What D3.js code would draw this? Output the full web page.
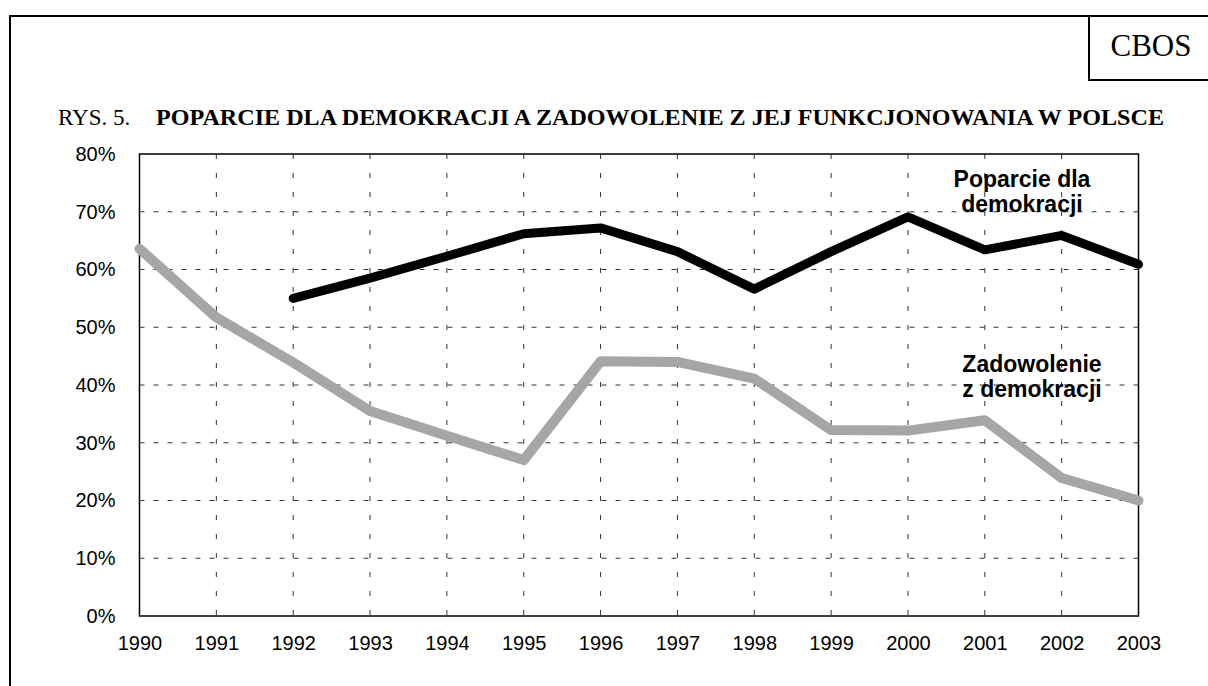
<!DOCTYPE html>
<html>
<head>
<meta charset="utf-8">
<script src="https://cdn.jsdelivr.net/npm/d3@7"></script>
<style>
  body { margin: 0; background: #fff; }
  svg { display: block; }
</style>
</head>
<body>
<div id="chart"></div>
<script>
const years = [1990, 1991, 1992, 1993, 1994, 1995, 1996, 1997, 1998, 1999, 2000, 2001, 2002, 2003];
// wartosci w %
const poparcie = [null, null, 55.0, 58.5, 62.3, 66.2, 67.2, 63.1, 56.6, 63.1, 69.1, 63.4, 65.9, 60.9];
const zadowolenie = [63.6, 51.7, 43.9, 35.5, 31.2, 27.0, 44.1, 44.0, 41.1, 32.2, 32.1, 33.9, 23.9, 20.0];
const yTicks = [0, 10, 20, 30, 40, 50, 60, 70, 80];

const labelPoparcie = ['Poparcie dla', 'demokracji'];
const labelZadowolenie = ['Zadowolenie', 'z demokracji'];

const width = 1208;
const height = 686;

const svg = d3.select('#chart')
    .append('svg')
    .attr('width', width)
    .attr('height', height);

// ramka strony + pole CBOS
svg.append('path')
    .attr('d', `M10,${height} L10,16 L${width},16`)
    .attr('fill', 'none')
    .attr('stroke', '#000')
    .attr('stroke-width', 2);

svg.append('path')
    .attr('d', `M1089,16 L1089,80 L${width},80`)
    .attr('fill', 'none')
    .attr('stroke', '#000')
    .attr('stroke-width', 2);

svg.append('text')
    .attr('x', 1151)
    .attr('y', 56)
    .attr('text-anchor', 'middle')
    .style('font-family', '"Liberation Serif", "Times New Roman", serif')
    .style('font-size', '31px')
    .text('CBOS');

const title = svg.append('text')
    .attr('x', 58)
    .attr('y', 125)
    .style('font-family', '"Liberation Serif", "Times New Roman", serif')
    .style('font-size', '23px');
title.append('tspan').text('RYS. 5.');
title.append('tspan')
    .attr('x', 156)
    .attr('font-weight', 'bold')
    .attr('textLength', 1008)
    .attr('lengthAdjust', 'spacingAndGlyphs')
    .text('POPARCIE DLA DEMOKRACJI A ZADOWOLENIE Z JEJ FUNKCJONOWANIA W POLSCE');

// wykres
const x = d3.scaleLinear()
    .domain([d3.min(years), d3.max(years)])
    .range([139.5, 1138.5]);

const y = d3.scaleLinear()
    .domain([0, 80])
    .range([616, 154]);

const grid = svg.append('g').attr('class', 'grid');

grid.selectAll('.hgrid')
    .data(yTicks.filter(d => d > 0 && d < 80))
    .enter()
    .append('line')
    .attr('x1', x(1990))
    .attr('x2', x(2003))
    .attr('y1', d => y(d))
    .attr('y2', d => y(d))
    .attr('stroke', '#333')
    .attr('stroke-width', 1)
    .attr('stroke-dasharray', '5,9');

grid.selectAll('.vgrid')
    .data(years.slice(1, -1))
    .enter()
    .append('line')
    .attr('x1', d => x(d))
    .attr('x2', d => x(d))
    .attr('y1', y(80))
    .attr('y2', y(0))
    .attr('stroke', '#333')
    .attr('stroke-width', 1)
    .attr('stroke-dasharray', '5,14');

svg.append('rect')
    .attr('x', x(1990))
    .attr('y', y(80))
    .attr('width', x(2003) - x(1990))
    .attr('height', y(0) - y(80))
    .attr('fill', 'none')
    .attr('stroke', '#000')
    .attr('stroke-width', 1.5);

const yAxis = d3.axisLeft(y)
    .tickValues(yTicks)
    .tickSize(0)
    .tickPadding(24)
    .tickFormat(d => d + '%');

const xAxis = d3.axisBottom(x)
    .tickValues(years)
    .tickSize(0)
    .tickPadding(20)
    .tickFormat(d3.format('d'));

const gy = svg.append('g')
    .attr('transform', `translate(${x(1990)},0)`)
    .call(yAxis);
const gx = svg.append('g')
    .attr('transform', `translate(0,${y(0)})`)
    .call(xAxis);

[gx, gy].forEach(g => {
    g.select('.domain').remove();
    g.selectAll('text')
        .style('font-family', 'Arial, "Liberation Sans", sans-serif')
        .style('font-size', '20px')
        .attr('fill', '#000');
});

// linie
const line = d3.line()
    .defined(d => d[1] != null)
    .x(d => x(d[0]))
    .y(d => y(d[1]));

svg.append('path')
    .datum(years.map((yr, i) => [yr, zadowolenie[i]]))
    .attr('d', line)
    .attr('fill', 'none')
    .attr('stroke', '#a6a6a6')
    .attr('stroke-width', 10)
    .attr('stroke-linejoin', 'round')
    .attr('stroke-linecap', 'round');

svg.append('path')
    .datum(years.map((yr, i) => [yr, poparcie[i]]))
    .attr('d', line)
    .attr('fill', 'none')
    .attr('stroke', '#000')
    .attr('stroke-width', 9)
    .attr('stroke-linejoin', 'round')
    .attr('stroke-linecap', 'round');

// opisy serii
function addLabel(lines, cx, baseline) {
    const t = svg.append('text')
        .attr('text-anchor', 'middle')
        .style('font-family', 'Arial, "Liberation Sans", sans-serif')
        .style('font-size', '23px')
        .style('font-weight', 'bold');
    lines.forEach((s, i) => {
        t.append('tspan')
            .attr('x', cx)
            .attr('y', baseline + i * 25)
            .text(s);
    });
}
addLabel(labelPoparcie, 1022, 187);
addLabel(labelZadowolenie, 1032, 372);
</script>
</body>
</html>
